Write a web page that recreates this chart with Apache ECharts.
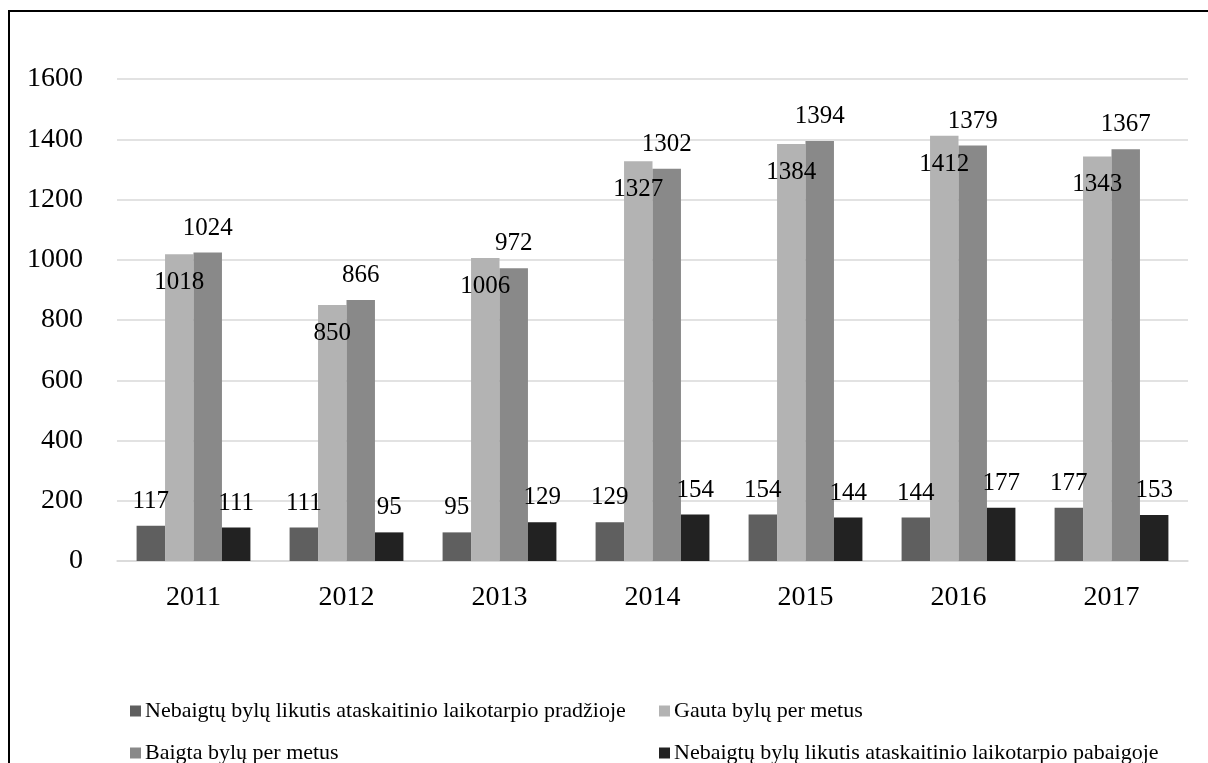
<!DOCTYPE html>
<html><head><meta charset="utf-8">
<script src="https://cdn.jsdelivr.net/npm/echarts@6/dist/echarts.min.js"></script>
<style>html,body{margin:0;padding:0;background:#fff}#c{width:1208px;height:763px}</style>
</head><body><div id="c"></div>
<script>
const categories = ['2011','2012','2013','2014','2015','2016','2017'];
const seriesNames = [
  'Nebaigtų bylų likutis ataskaitinio laikotarpio pradžioje',
  'Gauta bylų per metus',
  'Baigta bylų per metus',
  'Nebaigtų bylų likutis ataskaitinio laikotarpio pabaigoje'
];
const startBacklog = [117,111,95,129,154,144,177];
const received = [1018,850,1006,1327,1384,1412,1343];
const completed = [1024,866,972,1302,1394,1379,1367];
const endBacklog = [111,95,129,154,144,177,153];
const yTicks = {min:0,max:1600,interval:200};

const FONT = '"Liberation Serif","Times New Roman",serif';
const colors = ['#5f5f5f','#b3b3b3','#898989','#222222'];
const lbl = (pos, dist) => ({show:true, position:pos, distance:dist, color:'#000', fontFamily:FONT, fontSize:25});
const legendAt = (name, left, top) => ({data:[name],left:left,top:top,padding:0,itemWidth:11,itemHeight:11,itemGap:0,icon:'rect',
  textStyle:{fontFamily:FONT,fontSize:22,color:'#000',padding:[0,0,0,-1]}});
const chart = echarts.init(document.getElementById('c'));
chart.setOption({
  animation:false,
  textStyle:{fontFamily:FONT},
  color:colors,
  grid:{left:117,right:20,top:79,bottom:202,containLabel:false},
  graphic:[{type:'rect',shape:{x:9,y:11,width:1230,height:800},style:{fill:'none',stroke:'#000',lineWidth:2},z:100}],
  legend:[
    legendAt(seriesNames[0],130,700),
    legendAt(seriesNames[1],659,700),
    legendAt(seriesNames[2],130,742),
    legendAt(seriesNames[3],659,742)
  ],
  xAxis:{type:'category',data:categories,axisLine:{lineStyle:{color:'#d9d9d9',width:1.5}},axisTick:{show:false},
    axisLabel:{color:'#000',fontFamily:FONT,fontSize:28,margin:23}},
  yAxis:{type:'value',min:yTicks.min,max:yTicks.max,interval:yTicks.interval,axisLine:{show:false},axisTick:{show:false},
    splitLine:{lineStyle:{color:'#d9d9d9',width:1.5}},
    axisLabel:{color:'#000',fontFamily:FONT,fontSize:28,margin:34,formatter:v=>String(v)}},
  series:[
    {name:seriesNames[0],type:'bar',data:startBacklog,barGap:'0%',barCategoryGap:'25.6%',label:lbl('top',12)},
    {name:seriesNames[1],type:'bar',data:received,barGap:'0%',barCategoryGap:'25.6%',label:lbl('insideTop',16)},
    {name:seriesNames[2],type:'bar',data:completed,barGap:'0%',barCategoryGap:'25.6%',label:lbl('top',12)},
    {name:seriesNames[3],type:'bar',data:endBacklog,barGap:'0%',barCategoryGap:'25.6%',label:lbl('top',12)}
  ]
});
</script></body></html>
